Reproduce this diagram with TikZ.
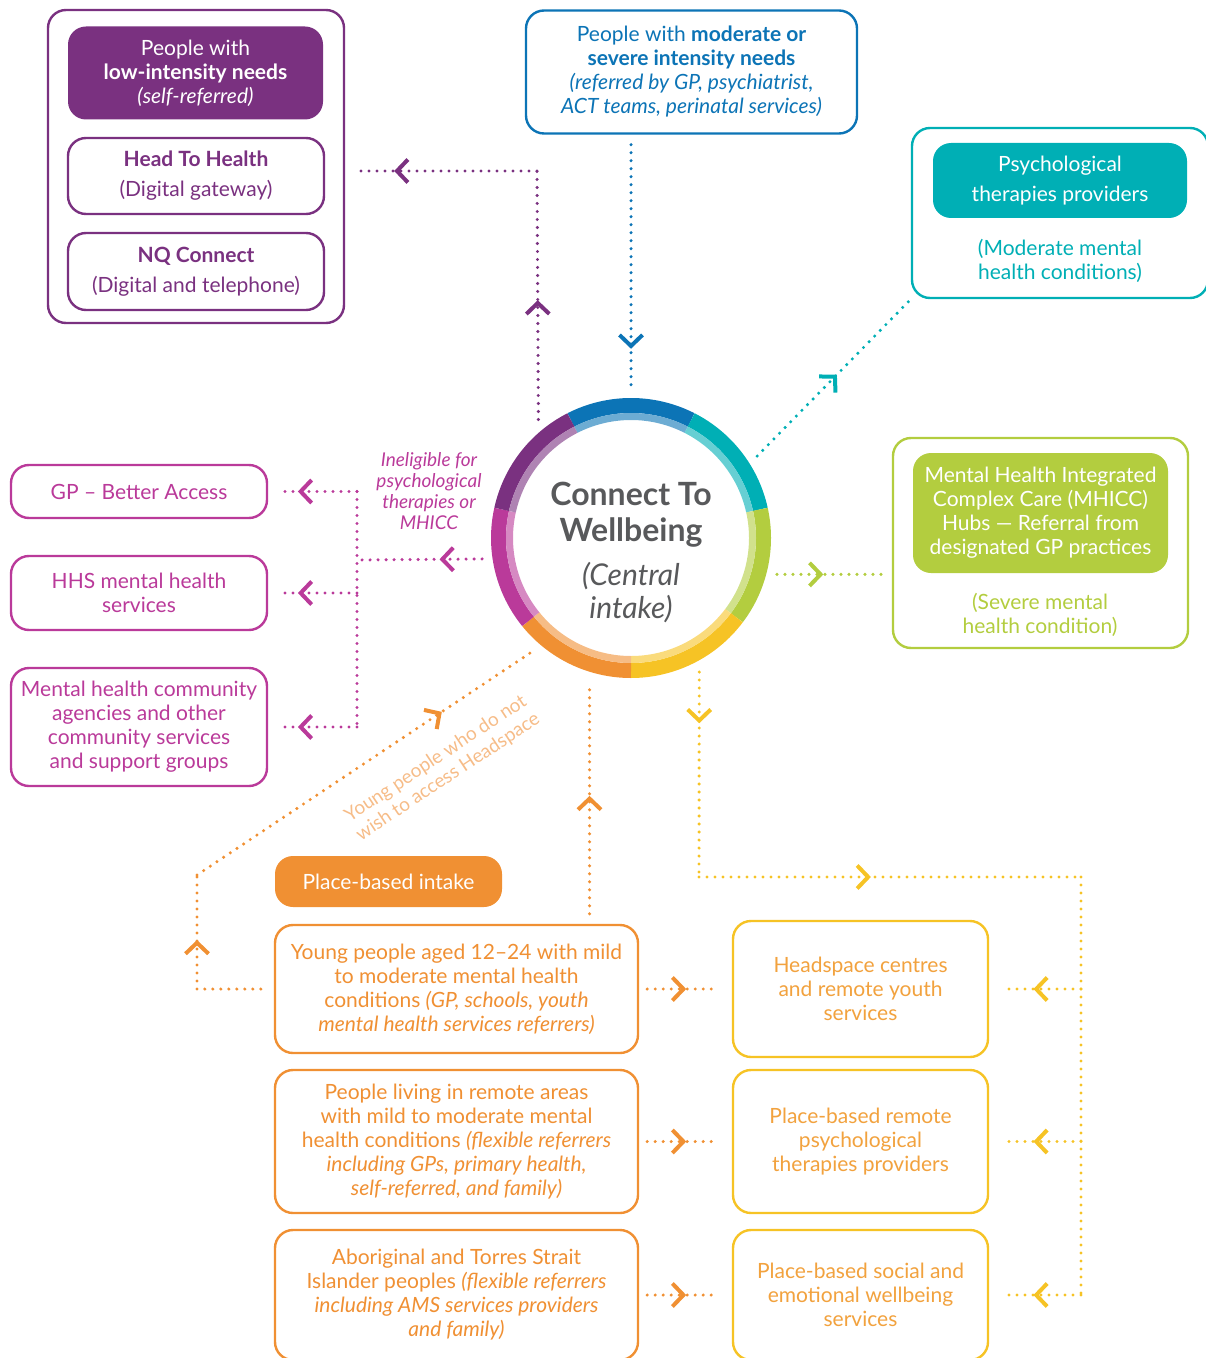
\documentclass[tikz,border=0pt]{standalone}
\usepackage{fontspec}
\setmainfont{Lato}
\usetikzlibrary{calc,shapes,arrows.meta,decorations.markings,positioning}

\definecolor{ctwpurple}{HTML}{7A3180}
\definecolor{ctwblue}{HTML}{0C74B6}
\definecolor{ctwteal}{HTML}{00AFB5}
\definecolor{ctwgreen}{HTML}{B3CD3F}
\definecolor{ctwmagenta}{HTML}{BA3A9A}
\definecolor{ctworange}{HTML}{F09033}
\definecolor{ctwyellow}{HTML}{F6C325}
\definecolor{ctwgray}{HTML}{58595B}
\definecolor{hstext}{HTML}{F2A23E}
\definecolor{lightorange}{HTML}{F6BC88}

\newcommand{\boxfont}{\fontsize{10.5}{12}\selectfont}
\newcommand{\notefont}{\fontsize{9.5}{10.5}\selectfont\itshape}

\tikzset{%
    groupbox/.style={%
        draw, rounded corners=9pt, line width=1.2pt, inner sep=0pt
    },
    service/.style={%
        draw, fill=white, rounded corners=9pt, line width=1.2pt, align=center, font=\boxfont, inner sep=0pt
    },
    intake/.style={%
        rounded corners=9pt, text=white, align=center, font=\boxfont, inner sep=0pt
    },
    txt/.style={%
        align=center, font=\boxfont
    },
    flow/.style={%
        line width=1.7pt, line cap=round, dash pattern=on 0pt off 4pt
    },
    chev/.style={%
        postaction={decorate, decoration={markings, mark=at position #1 with {\arrow[solid]{Straight Barb[length=5.5pt,width=11.5pt,line width=2pt]}}}}
    },
}

\begin{document}
\begin{tikzpicture}[x=0.5pt, y=0.5pt]
  \useasboundingbox (0,0) rectangle (1205,-1358);

  % low intensity
  \node[groupbox, draw=ctwpurple, minimum width=148pt, minimum height=156.5pt] (lowgrp) at (196,-166.5) {};
  \node[intake, fill=ctwpurple, minimum width=127.5pt, minimum height=46.5pt] (lowneed) at (195.5,-73) {People with\\\textbf{low-intensity needs}\\\textit{(self-referred)}};
  \node[service, draw=ctwpurple, text=ctwpurple, minimum width=128pt, minimum height=38pt] (htoh) at (196,-176) {\textbf{Head To Health}\\[3pt](Digital gateway)};
  \node[service, draw=ctwpurple, text=ctwpurple, minimum width=128pt, minimum height=38.5pt] (nqc) at (196,-271.5) {\textbf{NQ Connect}\\[3pt](Digital and telephone)};

  % moderate or severe
  \node[service, draw=ctwblue, text=ctwblue, minimum width=165.5pt, minimum height=61.5pt] (modsev) at (691.5,-72) {People with \textbf{moderate or}\\\textbf{severe intensity needs}\\\textit{(referred by GP, psychiatrist,}\\\textit{ACT teams, perinatal services)}};

  \node[groupbox, draw=ctwteal, minimum width=148pt, minimum height=85pt] (psygrp) at (1060,-213) {};
  \node[intake, fill=ctwteal, minimum width=127pt, minimum height=37.5pt] (psyprov) at (1060,-180.5) {Psychological\\[3pt]therapies providers};
  \node[txt, text=ctwteal] (psynote) at (1060,-261) {(Moderate mental\\health conditions)};

  \node[groupbox, draw=ctwgreen, minimum width=147.5pt, minimum height=105pt] (mhiccgrp) at (1040.5,-543) {};
  \node[intake, fill=ctwgreen, minimum width=127.5pt, minimum height=60pt] (mhicc) at (1040.5,-513) {Mental Health Integrated\\Complex Care (MHICC)\\Hubs --- Referral from\\designated GP practices};
  \node[txt, text=ctwgreen] (mhiccnote) at (1040,-615) {(Severe mental\\health condition)};

  % central intake
  \node[circle, minimum size=150pt, inner sep=0pt] (ctw) at (631,-538) {};
  \foreach \a/\b/\c in {63/117/ctwblue, 12.5/63/ctwteal, -37/12.5/ctwgreen, -90/-37/ctwyellow, -141/-90/ctworange, -192.5/-141/ctwmagenta, -243/-192.5/ctwpurple}
  {
    \draw[\c, line width=7.5pt] (ctw.center) ++(\a:132.5) arc[start angle=\a, end angle=\b, radius=132.5];
    \draw[\c!60!white, line width=3.5pt] (ctw.center) ++(\a:121.5) arc[start angle=\a, end angle=\b, radius=121.5];
  }
  \node[align=center, text=ctwgray, font=\fontsize{16}{18}\selectfont\bfseries] (ctwtitle) at (631,-515) {Connect To\\Wellbeing};
  \node[align=center, text=ctwgray, font=\fontsize{15}{16.5}\selectfont\itshape] (ctwsub) at (631,-593) {(Central\\intake)};

  % ineligible
  \node[service, draw=ctwmagenta, text=ctwmagenta, minimum width=128pt, minimum height=26.5pt] (gpba) at (139,-491.5) {GP -- Better Access};
  \node[service, draw=ctwmagenta, text=ctwmagenta, minimum width=128pt, minimum height=37pt] (hhs) at (139,-593) {HHS mental health\\services};
  \node[service, draw=ctwmagenta, text=ctwmagenta, minimum width=128pt, minimum height=59pt] (mhca) at (139,-727) {Mental health community\\agencies and other\\community services\\and support groups};
  \node[align=center, text=ctwmagenta, font=\notefont] (inelig) at (429,-491.5) {Ineligible for\\psychological\\therapies or\\MHICC};

  % place-based
  \node[intake, fill=ctworange, minimum width=113.5pt, minimum height=25.5pt] (pbintake) at (388.5,-881.5) {Place-based intake};
  \node[service, draw=ctworange, text=ctworange, minimum width=181.5pt, minimum height=64pt] (ypbox) at (456.5,-989) {Young people aged 12--24 with mild\\to moderate mental health\\conditions \textit{(GP, schools, youth}\\\textit{mental health services referrers)}};
  \node[service, draw=ctworange, text=ctworange, minimum width=181.5pt, minimum height=71.5pt] (remote) at (456.5,-1141.5) {People living in remote areas\\with mild to moderate mental\\health conditions \textit{(flexible referrers}\\\textit{including GPs, primary health,}\\\textit{self-referred, and family)}};
  \node[service, draw=ctworange, text=ctworange, minimum width=181.5pt, minimum height=65pt] (atsi) at (456.5,-1295) {Aboriginal and Torres Strait\\Islander peoples \textit{(flexible referrers}\\\textit{including AMS services providers}\\\textit{and family)}};
  \node[service, draw=ctwyellow, text=hstext, minimum width=127.5pt, minimum height=68pt] (hsc) at (860.5,-989) {Headspace centres\\and remote youth\\services};
  \node[service, draw=ctwyellow, text=hstext, minimum width=127.5pt, minimum height=71.5pt] (pbrpt) at (860.5,-1141.5) {Place-based remote\\psychological\\therapies providers};
  \node[service, draw=ctwyellow, text=hstext, minimum width=127.5pt, minimum height=65pt] (pbsew) at (860.5,-1295) {Place-based social and\\emotional wellbeing\\services};
  \node[align=center, text=lightorange, font=\fontsize{9.5}{11}\selectfont, rotate=33.5] (ypnote) at (442,-768) {Young people who do not\\wish to access Headspace};

  % connectors
  \coordinate (pturn) at (537,-171);
  \draw[flow, ctwpurple, chev=0.48] (ctw.128.5) -- (pturn);
  \draw[flow, ctwpurple, chev=0.79] (pturn) -- ($(pturn -| lowgrp.east)+(11,0)$);
  \draw[flow, ctwblue, chev=0.84] ($(ctw.north |- modsev.south)+(0,-10)$) -- (ctw.north);
  \draw[flow, ctwteal, chev=0.52] (ctw.33.4) -- (psygrp.south west);
  \draw[flow, ctwgreen, chev=0.43] (ctw.346) -- ($(ctw.346 -| mhiccgrp.west)+(-7,0)$);

  \coordinate (mjoin) at (357,-560);
  \draw[flow, ctwmagenta, chev=0.34] (ctw.188.4) -- (mjoin);
  \draw[flow, ctwmagenta] (mjoin |- gpba.east) -- (mjoin |- mhca.east);
  \foreach \n in {gpba, hhs, mhca}
    \draw[flow, ctwmagenta, chev=0.76] (mjoin |- \n.east) -- ($(\n.east)+(11,0)$);

  \coordinate (oturn) at (197,-875);
  \draw[flow, ctworange] ($(ypbox.west)+(-13,0)$) -- (oturn |- ypbox.west);
  \draw[flow, ctworange, chev=0.43] (oturn |- ypbox.west) -- (oturn);
  \draw[flow, ctworange, chev=0.73] (oturn) -- (ctw.229.4);
  \draw[flow, ctworange, chev=0.51] ($(ypbox.north -| ctw.254.3)+(0,10)$) -- (ctw.254.3);

  \coordinate (yturn) at (699,-877);
  \coordinate (yside) at (1081,-877);
  \draw[flow, ctwyellow, chev=0.25] (ctw.297.2) -- (yturn);
  \draw[flow, ctwyellow, chev=0.45] (yturn) -- (yside);
  \draw[flow, ctwyellow] (yside) -- (yside |- pbsew.east);
  \foreach \n in {hsc, pbrpt, pbsew}
    \draw[flow, ctwyellow, chev=0.62] (yside |- \n.east) -- ($(\n.east)+(15,0)$);
  \foreach \a/\b in {ypbox/hsc, remote/pbrpt, atsi/pbsew}
    \draw[flow, ctworange, chev=0.56] ($(\a.east)+(8,0)$) -- ($(\b.west)+(-15,0)$);
\end{tikzpicture}
\end{document}
